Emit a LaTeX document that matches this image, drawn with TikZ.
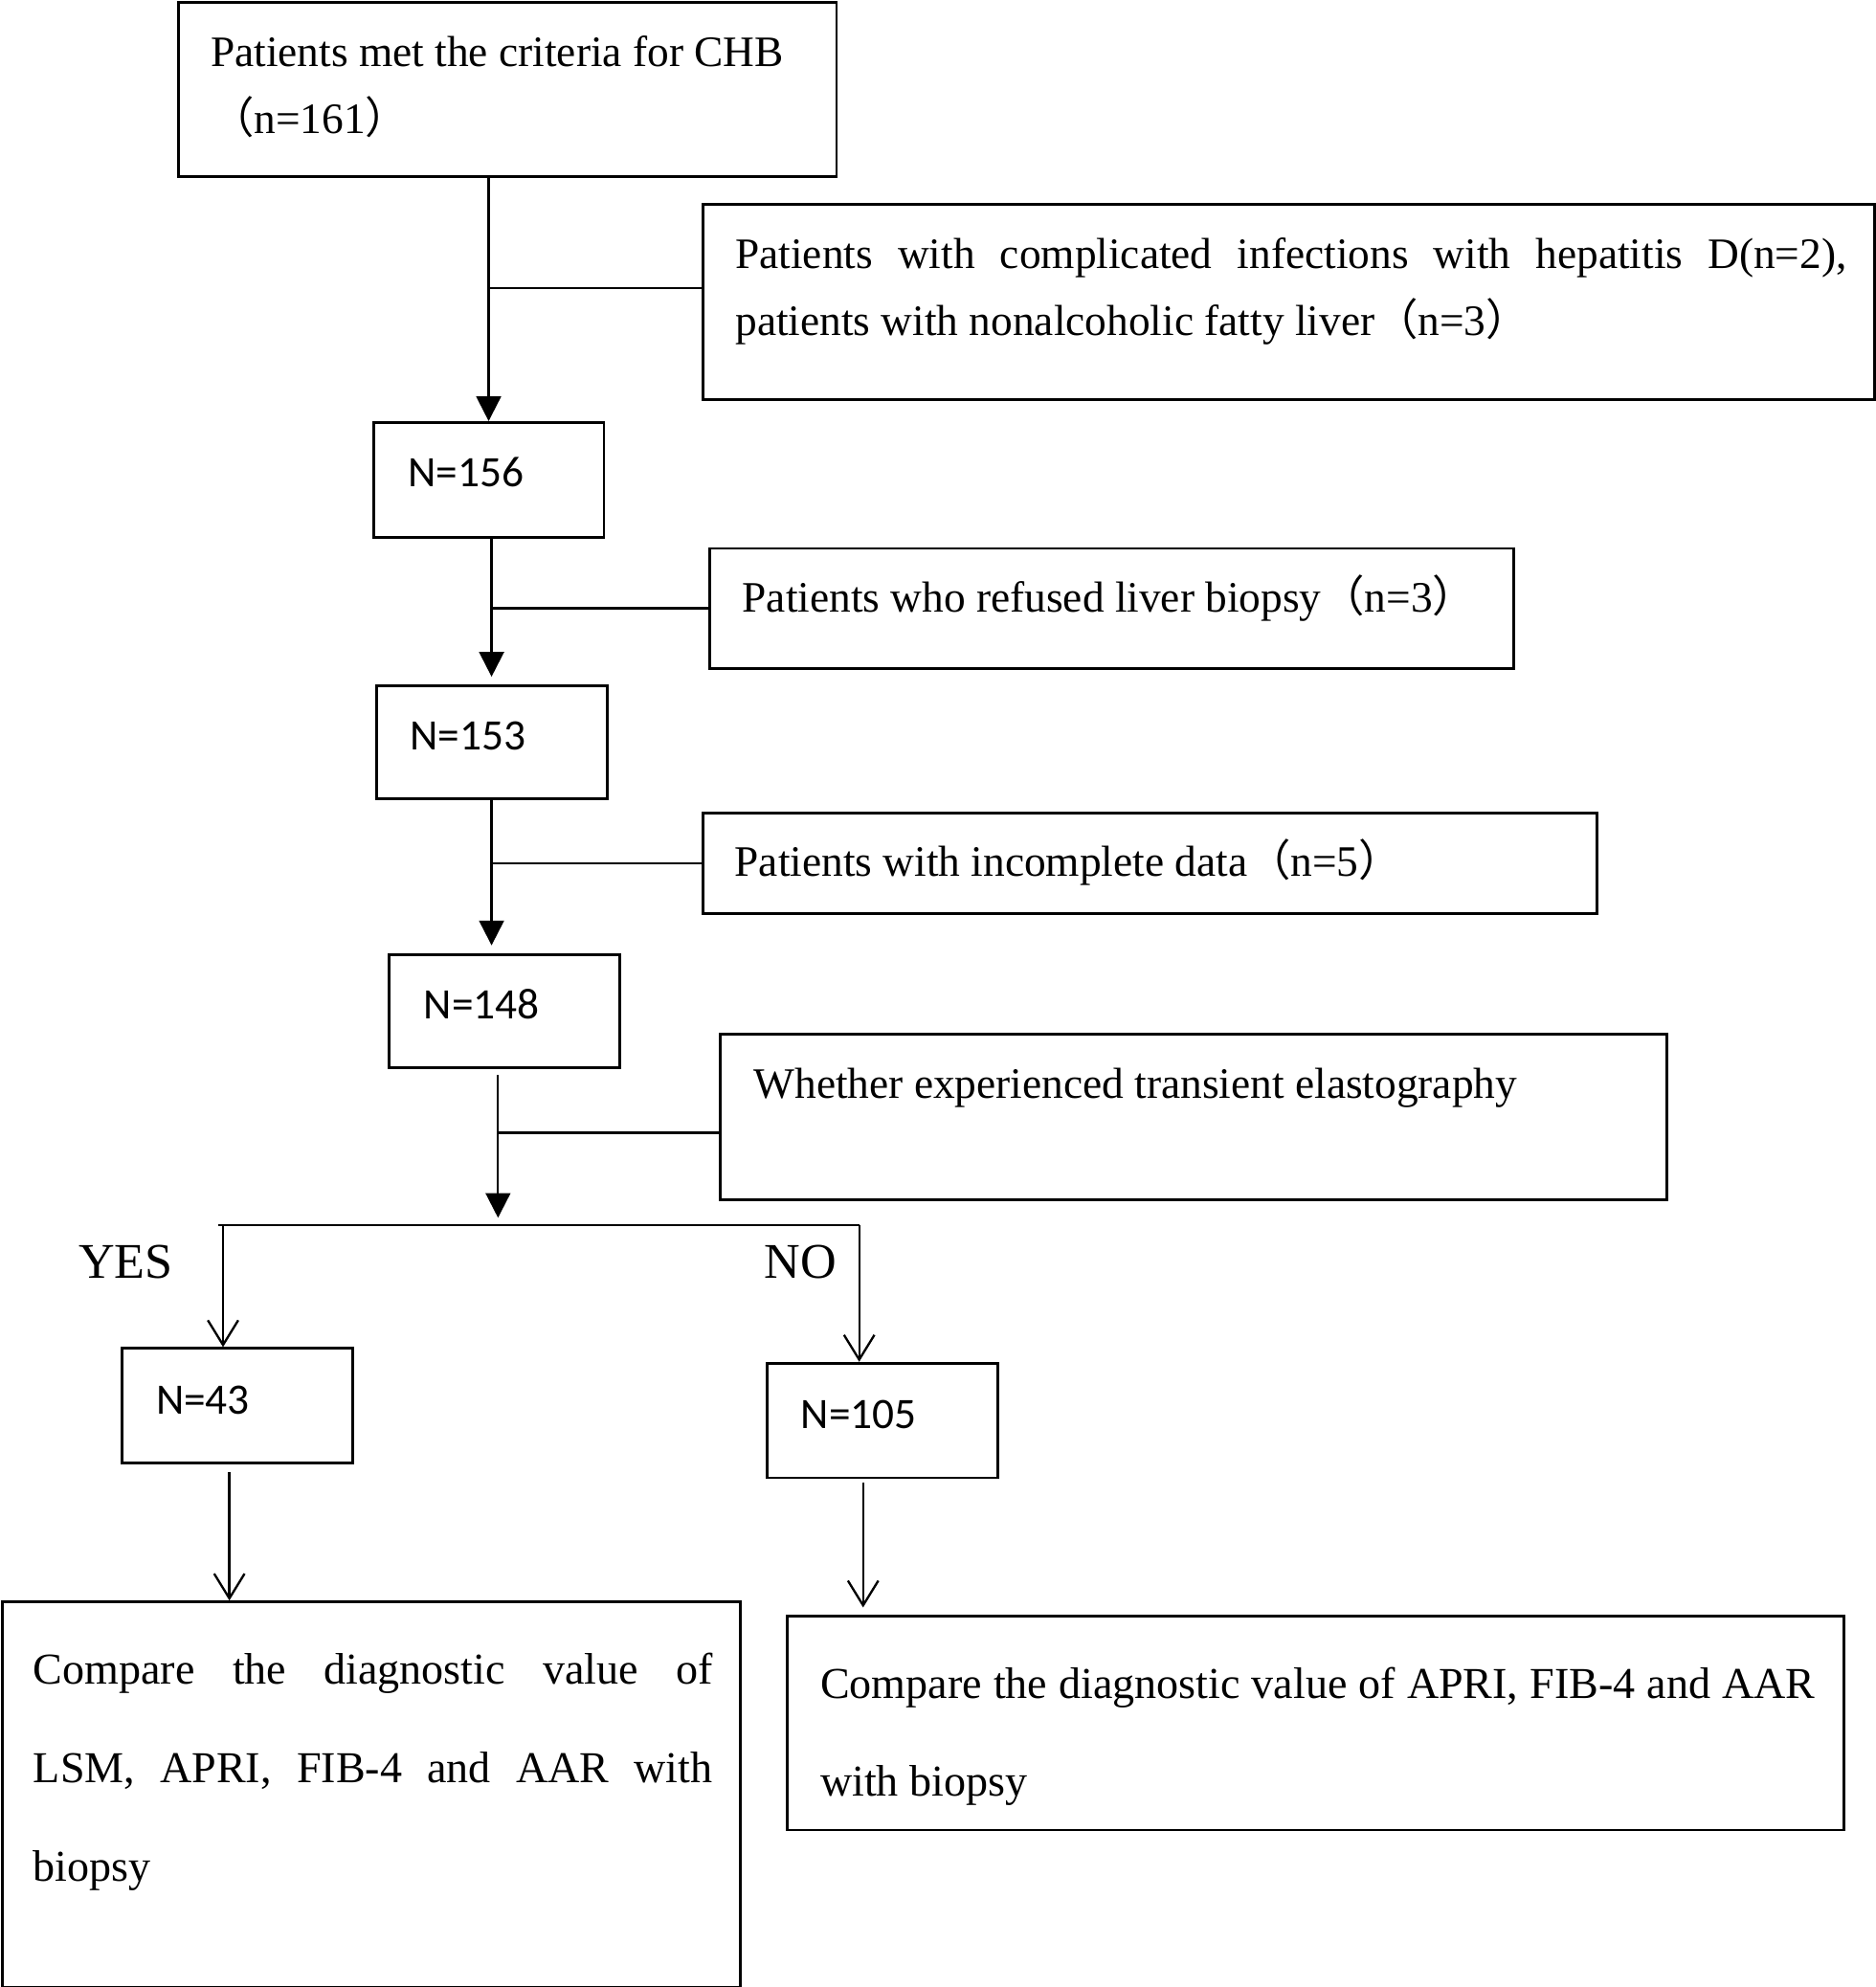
\documentclass[tikz,border=0pt]{standalone}
\usepackage{fontspec}
\setmainfont{Liberation Serif}
\newfontfamily\calibri{Carlito}
\newfontfamily\cjk{Noto Sans CJK SC}
\usetikzlibrary{arrows.meta}
\newcommand{\fwl}{{\cjk （}}
\newcommand{\fwr}{{\cjk ）}}

\begin{document}
\begin{tikzpicture}[
    x = 0.2mm, y = -0.2mm,
    box/.style = {draw, line width = 1.25pt, anchor = north west, inner sep = 0pt},
    txt/.style = {anchor = base west, inner sep = 0pt, font = \fontsize{19.5}{29.9}\selectfont},
    wide/.style = {anchor = base west, inner sep = 0pt, align = justify, font = \fontsize{19.8}{44.2}\selectfont},
    num/.style = {anchor = base west, inner sep = 0pt, font = \calibri\fontsize{19.5}{24}\selectfont},
    yn/.style = {anchor = base west, inner sep = 0pt, font = \fontsize{22.4}{27}\selectfont},
    ln/.style = {line width = 1pt},
    fwd/.style = {ln, -{Triangle[length = 3.9mm, width = 3.9mm]}},
    opn/.style = {ln, -{Straight Barb[length = 3.9mm, width = 4.8mm]}},
]
\useasboundingbox (0,0) rectangle (1480,1568);

% boxes
\node[box, minimum width = 103.8mm, minimum height = 27.4mm] (crit) at (140,1) {};
\node[box, minimum width = 184.8mm, minimum height = 30.8mm] (excl1) at (554,160.4) {};
\node[box, minimum width = 36.4mm, minimum height = 18.2mm] (n156) at (293.5,332.3) {};
\node[box, minimum width = 126.8mm, minimum height = 18.9mm] (excl2) at (559.2,431.7) {};
\node[box, minimum width = 36.4mm, minimum height = 17.8mm] (n153) at (295.8,540) {};
\node[box, minimum width = 141mm, minimum height = 15.8mm] (excl3) at (553.8,640.7) {};
\node[box, minimum width = 36.4mm, minimum height = 17.9mm] (n148) at (305.8,752) {};
\node[box, minimum width = 149.3mm, minimum height = 26.1mm] (te) at (567.5,815) {};
\node[box, minimum width = 36.4mm, minimum height = 18.1mm] (n43) at (95.4,1063) {};
\node[box, minimum width = 36.4mm, minimum height = 18.1mm] (n105) at (604,1074.6) {};
\node[box, minimum width = 116.4mm, minimum height = 60.8mm] (cmp1) at (1,1263) {};
\node[box, minimum width = 166.8mm, minimum height = 33.8mm] (cmp2) at (620,1274) {};

% texts
\node[txt, text width = 100mm, align = flush left] (crit-t) at ([shift = {(26,51.5)}]crit.north west)
    {Patients met the criteria for CHB\\\fwl n=161\fwr};
\node[txt, text width = 175.4mm, align = justify] (excl1-t) at ([shift = {(26,51.5)}]excl1.north west)
    {Patients with complicated infections with hepatitis D(n=2),\linebreak patients with nonalcoholic fatty liver\fwl n=3\fwr};
\node[num] (n156-t) at ([shift = {(28,52)}]n156.north west) {N=156};
\node[txt] (excl2-t) at ([shift = {(26.3,51)}]excl2.north west) {Patients who refused liver biopsy\fwl n=3\fwr};
\node[num] (n153-t) at ([shift = {(27.6,51.5)}]n153.north west) {N=153};
\node[txt] (excl3-t) at ([shift = {(25.7,51)}]excl3.north west) {Patients with incomplete data\fwl n=5\fwr};
\node[num] (n148-t) at ([shift = {(28.4,51.7)}]n148.north west) {N=148};
\node[txt] (te-t) at ([shift = {(27,51.4)}]te.north west) {Whether experienced transient elastography};
\node[num] (n43-t) at ([shift = {(27.4,52.8)}]n43.north west) {N=43};
\node[num] (n105-t) at ([shift = {(27.8,52.4)}]n105.north west) {N=105};
\node[wide, text width = 107.2mm] (cmp1-t) at ([shift = {(25,66)}]cmp1.north west)
    {Compare the diagnostic value of\linebreak LSM, APRI, FIB-4 and AAR with\linebreak biopsy};
\node[wide, text width = 157mm] (cmp2-t) at ([shift = {(27,66)}]cmp2.north west)
    {Compare the diagnostic value of APRI, FIB-4 and AAR\linebreak with biopsy};
\node[yn] (yes-t) at (61.6,1009) {YES};
\node[yn] (no-t) at (603,1009) {NO};

% main line
\coordinate (split) at (393,967);
\coordinate (yes) at (176,967);
\coordinate (no) at (678,967);
\coordinate (b1) at ([yshift = 2.2mm]excl1.west);
\coordinate (b4) at ([yshift = -2.5mm]te.west);
\coordinate (a43) at ([xshift = -1.3mm]n43.south);
\coordinate (a105) at ([xshift = -3mm]n105.south);

\draw[fwd] (crit.south -| n156.north) -- (n156.north);
\draw[ln] (b1) -- (b1 -| n156.north);
\draw[fwd, shorten >= 1.2mm] (n156.south -| n153.north) -- (n153.north);
\draw[ln] (excl2.west) -- (excl2.west -| n153.north);
\draw[fwd, shorten >= 1.2mm] (n153.south) -- (n153.south |- n148.north);
\draw[ln] (excl3.west) -- (excl3.west -| n153.south);
\draw[fwd, shorten <= 0.9mm, shorten >= 1.2mm] (n148.south -| split) -- (split);
\draw[ln] (b4) -- (b4 -| split);

% yes / no
\draw[ln] ([xshift = -0.8mm]yes) -- (no);
\draw[opn] (yes) -- (yes |- n43.north);
\draw[opn] (no) -- (no |- n105.north);
\draw[opn, shorten <= 1.2mm] (a43) -- (a43 |- cmp1.north);
\draw[opn, shorten <= 0.5mm, shorten >= 1.1mm] (a105) -- (a105 |- cmp2.north);

\end{tikzpicture}
\end{document}
